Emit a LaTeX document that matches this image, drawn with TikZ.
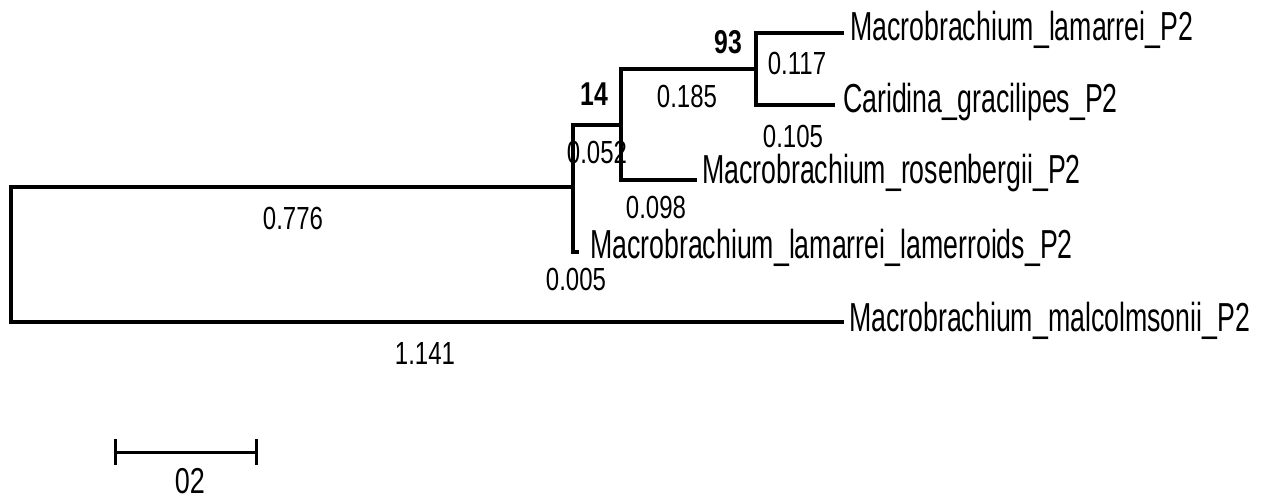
\documentclass[tikz,border=0pt]{standalone}
\usepackage{fontspec}
\usetikzlibrary{arrows.meta}
\newfontfamily\taxonfont[FakeStretch=0.66]{Liberation Sans}
\newfontfamily\lenfont[FakeStretch=0.75]{Liberation Sans}

\begin{document}
\begin{tikzpicture}[x=1pt, y=-1pt]
\tikzset{ >=latex, inner sep=0pt, outer sep=0pt,
  branch/.style={line width=4pt, line cap=rect},
  taxon/.style={anchor=base west, font=\taxonfont\fontsize{40.5}{44}\selectfont},
  blen/.style={anchor=base, font=\lenfont\fontsize{32}{36}\selectfont},
  boot/.style={anchor=base, font=\lenfont\bfseries\fontsize{33}{36}\selectfont},
}

\useasboundingbox (0,0) rectangle (1265,500);

%\draw [lightgray, dashed](0,0) grid [step=50] (1265,500);

% inner nodes
\coordinate (R)  at (11,254.5);
\coordinate (N1) at (573,187);
\coordinate (N2) at (621,125);
\coordinate (N3) at (756,69);

% tips
\coordinate (Lam) at (842,33);
\coordinate (Car) at (833,105);
\coordinate (Ros) at (695,180);
\coordinate (Lmr) at (577,252);
\coordinate (Mal) at (842,322);

\draw [branch] (R)  |- (N1);
\draw [branch] (R)  |- (Mal);
\draw [branch] (N1) |- (N2);
\draw [branch] (N1) |- (Lmr);
\draw [branch] (N2) |- (N3);
\draw [branch] (N2) |- (Ros);
\draw [branch] (N3) |- (Lam);
\draw [branch] (N3) |- (Car);

\node [taxon] (tLam) at (850,41)  {Macrobrachium\_lamarrei\_P2};
\node [taxon] (tCar) at (843,113) {Caridina\_gracilipes\_P2};
\node [taxon] (tRos) at (702,183) {Macrobrachium\_rosenbergii\_P2};
\node [taxon] (tLmr) at (590,258) {Macrobrachium\_lamarrei\_lamerroids\_P2};
\node [taxon] (tMal) at (849,331) {Macrobrachium\_malcolmsonii\_P2};

\node [boot] (b3) at (728,54)  {93};
\node [boot] (b2) at (594,106) {14};

\node [blen] (lLam) at (797,75)  {0.117};
\node [blen] (lN3)  at (687,108) {0.185};
\node [blen] (lCar) at (793,147) {0.105};
\node [blen] (lN2)  at (597,163) {0.052};
\node [blen] (lRos) at (656,218) {0.098};
\node [blen] (lN1)  at (293,229) {0.776};
\node [blen] (lLmr) at (576,290) {0.005};
\node [blen] (lMal) at (425,364) {1.141};

% scale bar
\coordinate (sbL) at (114,452);
\coordinate (sbR) at (258,452);
\draw [line width=3pt, {Bar[width=26pt]}-{Bar[width=26pt]}] (sbL) -- (sbR);
\node [blen, font=\lenfont\fontsize{36}{40}\selectfont] (sb) at (190,493) {02};

\end{tikzpicture}
\end{document}
